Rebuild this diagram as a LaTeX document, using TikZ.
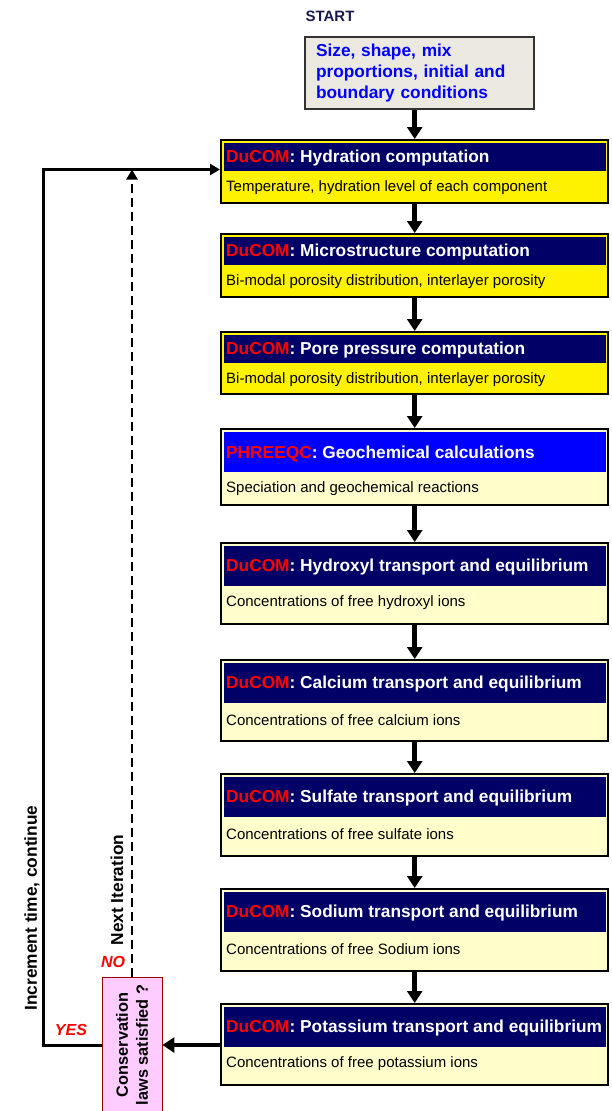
\documentclass[tikz,border=0pt]{standalone}
\usepackage{fontspec}
\setmainfont{Liberation Sans}
\usepackage{tikz}
\usetikzlibrary{arrows.meta,calc}
\definecolor{bandnavy}{RGB}{0,0,102}
\definecolor{paleyellow}{RGB}{255,255,204}
\definecolor{inputgray}{RGB}{236,233,224}
\definecolor{startnavy}{RGB}{25,25,80}
\definecolor{pinkbox}{RGB}{255,204,255}
\definecolor{pinkborder}{RGB}{153,0,0}
\tikzset{flow box/.style={
  draw=black,
  line width=2.4pt,
  rectangle,
  anchor=north west,
  inner sep=0pt,
  minimum width=387pt
  }
}
\tikzset{head text/.style={
  font=\fontsize{17.3}{20}\selectfont\bfseries,
  text=white,
  inner sep=0pt,
  anchor=west
  }
}
\tikzset{sub text/.style={
  font=\fontsize{15}{18}\selectfont,
  text=black,
  inner sep=0pt,
  anchor=west
  }
}
\tikzset{flow arrow/.style={
  black,
  line width=4.5pt,
  -{Triangle[width=15pt,length=12pt]}
  }
}
\tikzset{loop arrow/.style={
  black,
  line width=3pt,
  -{Triangle[width=11pt,length=10pt]}
  }
}
\tikzset{iter arrow/.style={
  black,
  line width=2.6pt,
  dash pattern=on 9pt off 5pt,
  -{Triangle[width=11pt,length=10pt]}
  }
}
\tikzset{side label/.style={
  font=\fontsize{17.3}{20}\selectfont\bfseries,
  rotate=90,
  inner sep=0pt
  }
}
\tikzset{answer/.style={
  font=\fontsize{16}{18}\selectfont\bfseries\itshape,
  text=red,
  inner sep=0pt
  }
}

\begin{document}
\begin{tikzpicture}[x=1pt,y=-1pt]
    \useasboundingbox (0,0) rectangle (611,1111);

    \node[font=\fontsize{15}{18}\selectfont\bfseries,text=startnavy] (start) at (330,16) {START};
    \node[draw=black!80,line width=2pt,fill=inputgray,anchor=north west,minimum width=229pt,minimum height=72pt,
          text width=207pt,inner xsep=11pt,inner ysep=0pt,align=left,text=blue,
          font=\fontsize{17.3}{21}\selectfont\bfseries] (input) at (304,36)
          {Size, shape, mix\\proportions, initial and\\boundary conditions};

    \foreach \n/\t/\bt/\h/\fc/\bc/\prog/\ttl/\sub in {
        1/139/202/28/yellow/bandnavy/DuCOM/Hydration computation/{Temperature, hydration level of each component},
        2/233/296/28/yellow/bandnavy/DuCOM/Microstructure computation/{Bi-modal porosity distribution, interlayer porosity},
        3/331/393/28/yellow/bandnavy/DuCOM/Pore pressure computation/{Bi-modal porosity distribution, interlayer porosity},
        4/428/504/40/paleyellow/blue/PHREEQC/Geochemical calculations/Speciation and geochemical reactions,
        5/542/623/40/paleyellow/bandnavy/DuCOM/Hydroxyl transport and equilibrium/Concentrations of free hydroxyl ions,
        6/659/740/40/paleyellow/bandnavy/DuCOM/Calcium transport and equilibrium/Concentrations of free calcium ions,
        7/773/855/40/paleyellow/bandnavy/DuCOM/Sulfate transport and equilibrium/Concentrations of free sulfate ions,
        8/888/970/40/paleyellow/bandnavy/DuCOM/Sodium transport and equilibrium/Concentrations of free Sodium ions,
        9/1003/1084/40/paleyellow/bandnavy/DuCOM/Potassium transport and equilibrium/Concentrations of free potassium ions}
    {
        \node[flow box,fill=\fc,minimum height={(\bt-\t)*1pt}] (B\n) at (220,\t) {};
        \fill[\bc] ($(B\n.north west)+(4,4)$) rectangle ($(B\n.north east)+(-3,4+\h)$);
        \node[head text] (H\n) at ($(B\n.north west)+(6,5.5+\h/2)$) {\textcolor{red}{\prog}: \ttl};
        \node[sub text] (S\n) at ($(B\n.north west)+(6,6+\h+15)$) {\sub};
    }

    \draw[flow arrow] (B1.north |- input.south) -- (B1.north);
    \foreach \a/\nxt in {1/2,2/3,3/4,4/5,5/6,6/7,7/8,8/9}
        \draw[flow arrow] (B\a.south) -- (B\nxt.north);

    \node[draw=pinkborder,line width=0.8pt,fill=pinkbox,rotate=90,minimum width=136pt,minimum height=60pt,
          inner sep=0pt,align=center,font=\fontsize{16.3}{20}\selectfont\bfseries] (cons) at (132,1045)
          {Conservation\\laws satisfied ?};

    \draw[flow arrow] (B9.west |- cons.south) -- (cons.south);

    \coordinate (corner) at (43,169.5);
    \draw[loop arrow] (cons.north) -| (corner) -- (B1.west |- corner);
    \draw[iter arrow] (cons.east) -- (cons.east |- corner);

    \node[side label] (inc) at (32,908) {Increment time, continue};
    \node[side label] (next) at (117,890) {Next Iteration};
    \node[answer] (yes) at (71,1030) {YES};
    \node[answer] (no) at (113,962) {NO};
\end{tikzpicture}
\end{document}
